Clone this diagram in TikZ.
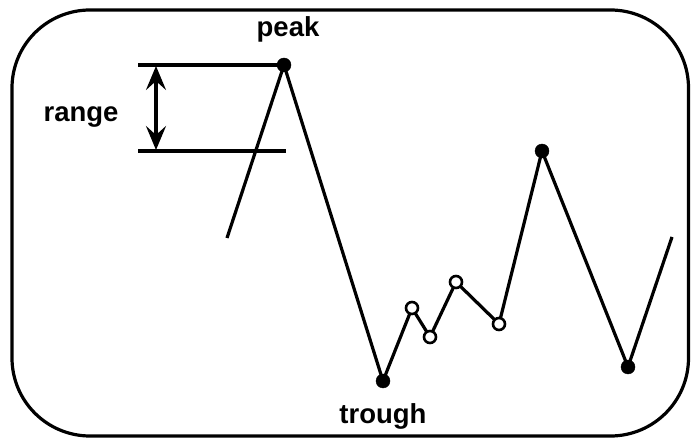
\documentclass[tikz,border=0pt]{standalone}
\usepackage{fontspec}
\setmainfont{Liberation Sans}
\usetikzlibrary{arrows.meta}
\begin{document}
\begin{tikzpicture}[x=1pt,y=-1pt,
  lbl/.style={font=\fontsize{27.5}{30}\selectfont\bfseries, inner sep=0pt, anchor=base},
  fdot/.style={circle, fill=black, draw=black, minimum size=14pt, inner sep=0pt},
  odot/.style={circle, fill=white, draw=black, line width=2.6pt, minimum size=12pt, inner sep=0pt},
  wave/.style={line width=3.2pt, line join=miter},
  guide/.style={line width=3.2pt},
  dim/.style={line width=3.2pt, {Stealth[length=24pt,width=20pt,inset=9pt]}-{Stealth[length=24pt,width=20pt,inset=9pt]}}]
\useasboundingbox (0,0) rectangle (691,438);
\draw[line width=3.2pt, rounded corners=78pt] (12,10) rectangle (688.5,436);
% points
\coordinate (s) at (227,238);
\coordinate (p1) at (284,65);
\coordinate (t1) at (383,381);
\coordinate (o1) at (412,308);
\coordinate (o2) at (430,337);
\coordinate (o3) at (456,282);
\coordinate (o4) at (499,324);
\coordinate (p2) at (542,151);
\coordinate (t2) at (628,367);
\coordinate (e) at (672,237);
% guides
\coordinate (g1a) at (138,65);
\coordinate (g2a) at (138,151);
\coordinate (g2b) at (286,151);
\draw[guide] (g1a) -- (p1);
\draw[guide] (g2a) -- (g2b);
\coordinate (d1) at (156,66);
\coordinate (d2) at (156,150);
\draw[dim] (d1) -- (d2);
% wave
\draw[wave] (s) -- (p1) -- (t1) -- (o1) -- (o2) -- (o3) -- (o4) -- (p2) -- (t2) -- (e);
\node[fdot] (np1) at (p1) {};
\node[fdot] (nt1) at (t1) {};
\node[fdot] (np2) at (p2) {};
\node[fdot] (nt2) at (t2) {};
\node[odot] (no1) at (o1) {};
\node[odot] (no2) at (o2) {};
\node[odot] (no3) at (o3) {};
\node[odot] (no4) at (o4) {};
% labels
\node[lbl] (lpeak) at (288,37) {peak};
\node[lbl] (lrange) at (81,122) {range};
\node[lbl] (ltrough) at (383,423) {trough};
\end{tikzpicture}
\end{document}
